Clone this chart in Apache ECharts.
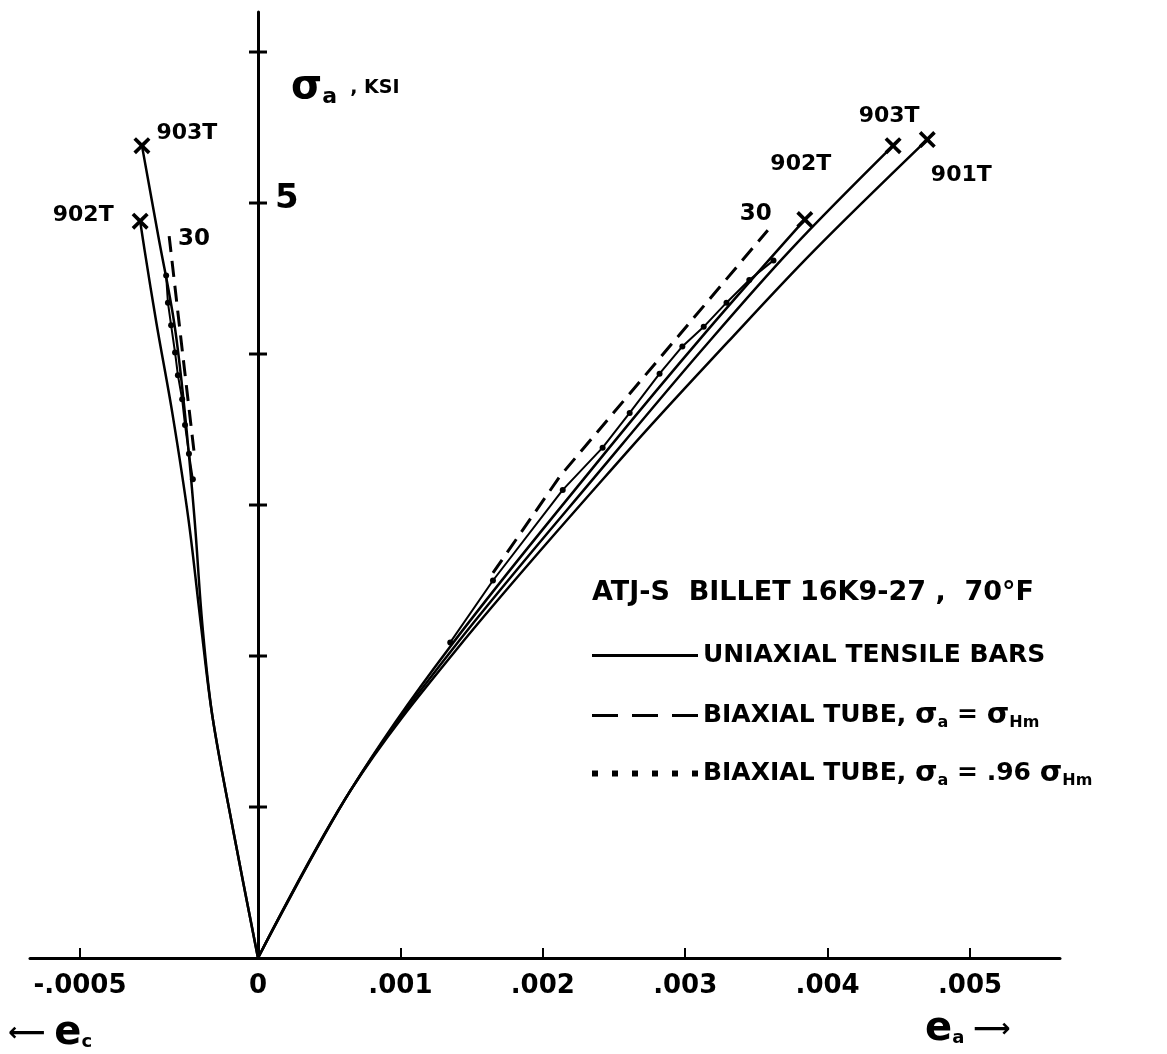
<!DOCTYPE html>
<html><head><meta charset="utf-8">
<script src="https://cdn.jsdelivr.net/npm/echarts@6/dist/echarts.min.js"></script>
<style>html,body{margin:0;padding:0;background:#fff}#c{width:1167px;height:1054px}</style>
</head><body><div id="c"></div>
<script>
// ---- data ----
const K = 2.5; // compressive strain drawn at 2.5x scale (as on the original)
const xTickStrains = [-0.0005, 0, 0.001, 0.002, 0.003, 0.004, 0.005];
const xTickLabels = ['-.0005', '0', '.001', '.002', '.003', '.004', '.005'];
const yTickValues = [1, 2, 3, 4, 5, 6];
const yLabelValues = [5];

// uniaxial tensile bars: axial strain e_a vs sigma_a (ksi)
const uni901T_axial = [[0,0],[0.00065,1.11],[0.0014,2.05],[0.0026,3.36],[0.0033,4.08],[0.0039,4.68],[0.0047,5.42]];
const uni903T_axial = [[0,0],[0.00065,1.11],[0.00137,2.05],[0.00252,3.36],[0.00312,4.03],[0.00374,4.69],[0.00446,5.38]];
const uni902T_axial = [[0,0],[0.00065,1.11],[0.00134,2.05],[0.00245,3.36],[0.00315,4.15],[0.00384,4.89]];
// uniaxial: circumferential strain e_c
const uni903T_circ = [[0,0],[-0.00007,0.85],[-0.000128,1.6],[-0.000156,2.2],[-0.000178,2.9],[-0.000205,3.6],[-0.000235,4.2],[-0.00028,4.78],[-0.000326,5.38]];
const uni902T_circ = [[0,0],[-0.00007,0.85],[-0.000128,1.6],[-0.00016,2.2],[-0.000195,2.9],[-0.00024,3.6],[-0.000285,4.2],[-0.000318,4.68],[-0.000331,4.88]];
// biaxial tube 30, sigma_a = sigma_Hm
const bi30_axial = [[0.00165,2.55],[0.00212,3.19],[0.00358,4.82]];
const bi30_circ = [[-0.00018,3.36],[-0.000215,4.07],[-0.00025,4.79]];
// biaxial tube, sigma_a = .96 sigma_Hm
const bi96_axial = [[0.00135,2.09],[0.00165,2.5],[0.00214,3.1],[0.00242,3.38],[0.00261,3.61],[0.00282,3.87],[0.00298,4.05],[0.00313,4.18],[0.00329,4.34],[0.00345,4.49],[0.00362,4.62]];
const bi96_circ = [[-0.000183,3.17],[-0.000194,3.34],[-0.000205,3.53],[-0.000213,3.7],[-0.000225,3.86],[-0.000233,4.01],[-0.000244,4.19],[-0.000253,4.34],[-0.000258,4.52]];

// end points (failure) with specimen labels
const endPoints = [
  {name:'903T', v:[-0.000326,5.38], pos:'right', off:[0,-12]},
  {name:'902T', v:[-0.000331,4.88], pos:'left', off:[-12,-6]},
  {name:'903T', v:[0.00446,5.38], pos:'top', off:[-4,-4]},
  {name:'901T', v:[0.0047,5.42], pos:'bottom', off:[34,10]},
  {name:'902T', v:[0.00384,4.89], pos:'top', off:[-4,-30]}
];
const tubeLabels = [
  {name:'30', v:[-0.00025,4.79], pos:'right', off:[4,4]},
  {name:'30', v:[0.00358,4.82], pos:'top', off:[-12,0]}
];

// ---- helpers ----
const toD = e => e < 0 ? e * K : e;
const conv = arr => arr.map(p => [toD(p[0]), p[1]]);
const UNI = 'UNIAXIAL TENSILE BARS';
const B1 = 'BIAXIAL TUBE, σa = σHm';
const B2 = 'BIAXIAL TUBE, σa = .96 σHm';
const FONT = 'DejaVu Sans';
const xTickDisp = xTickStrains.map(toD);

const solid = (d) => ({type:'line', name:UNI, data:conv(d), showSymbol:false, smooth:0.35,
  lineStyle:{color:'#000', width:2.5}, itemStyle:{color:'#000'}, z:3});
const dashed = (d) => ({type:'line', name:B1, data:conv(d), showSymbol:false,
  lineStyle:{color:'#000', width:3, type:[16,9]}, itemStyle:{color:'#000'}, z:3});
const dotted = (d) => ({type:'line', name:B2, data:conv(d), showSymbol:true, symbol:'circle', symbolSize:6,
  lineStyle:{color:'#000', width:2}, itemStyle:{color:'#000'}, z:4});

const xPath = 'path://M0,1.5L1.5,0L5,3.5L8.5,0L10,1.5L6.5,5L10,8.5L8.5,10L5,6.5L1.5,10L0,8.5L3.5,5Z';
const rich = {
  n:{fontFamily:FONT, fontSize:25, fontWeight:'bold', color:'#000'},
  g:{fontFamily:FONT, fontSize:29, fontWeight:'bold', color:'#000'},
  s:{fontFamily:FONT, fontSize:16, fontWeight:'bold', color:'#000', padding:[14,0,0,0]}
};
const legendBase = {orient:'horizontal', left:587, itemWidth:106, itemGap:24,
  textStyle:{fontFamily:FONT, fontSize:25, fontWeight:'bold', color:'#000', rich:rich},
  formatter: function(n){
    if (n === UNI) return '{n|' + n + '}';
    if (n === B1) return '{n|BIAXIAL TUBE, }{g|σ}{s|a}{n| = }{g|σ}{s|Hm}';
    return '{n|BIAXIAL TUBE, }{g|σ}{s|a}{n| = .96 }{g|σ}{s|Hm}';
  }};
const lbl = {color:'#000', fontFamily:FONT, fontWeight:'bold', textBorderWidth:0};
const ink = {color:'#000', opacity:1};

const chart = echarts.init(document.getElementById('c'), null, {renderer:'canvas'});
chart.setOption({
  animation:false,
  backgroundColor:'#fff',
  textStyle:{fontFamily:FONT, color:'#000'},
  grid:{left:30, right:107, top:12, bottom:96, containLabel:false},
  title:{text:'ATJ-S  BILLET 16K9-27 ,  70°F', left:587, top:574,
    textStyle:{fontFamily:FONT, fontSize:27, fontWeight:'bold', color:'#000'}},
  legend:[
    Object.assign({}, legendBase, {data:[{name:UNI, icon:'rect'}], top:638, itemHeight:3}),
    Object.assign({}, legendBase, {data:[{name:B1, icon:'path://M0,0H26V3H0Z M40,0H66V3H40Z M80,0H106V3H80Z'}], top:696, itemHeight:3}),
    Object.assign({}, legendBase, {data:[{name:B2, icon:'path://M0,0H6V6H0Z M20,0H26V6H20Z M40,0H46V6H40Z M60,0H66V6H60Z M80,0H86V6H80Z M100,0H106V6H100Z'}], top:754, itemHeight:6})
  ],
  xAxis:{type:'value', min:-0.0016011, max:0.005632, splitLine:{show:false},
    axisLine:{onZero:true, lineStyle:{color:'#000', width:3}},
    axisTick:{show:true, inside:true, length:10, customValues:xTickDisp, lineStyle:{color:'#000', width:2}},
    axisLabel:{show:true, customValues:xTickDisp, margin:15, color:'#000', fontFamily:FONT, fontSize:26, fontWeight:'bold',
      formatter:function(v){ let i = xTickDisp.findIndex(t => Math.abs(t - v) < 1e-9); return i >= 0 ? xTickLabels[i] : ''; }}
  },
  yAxis:{type:'value', min:0, max:6.265, splitLine:{show:false},
    axisLine:{onZero:true, lineStyle:{color:'#000', width:3}},
    axisTick:{show:false}, axisLabel:{show:false}
  },
  graphic:[
    {type:'text', left:291, top:68, style:{text:'{g|σ}{s|a}{n|  , KSI}', fill:'#000',
      rich:{g:{fontFamily:FONT, fontSize:40, fontWeight:'bold', fill:'#000'}, s:{fontFamily:FONT, fontSize:22, fontWeight:'bold', fill:'#000', padding:[18,0,0,0]}, n:{fontFamily:FONT, fontSize:19, fontWeight:'bold', fill:'#000'}}}},
    {type:'text', left:8, top:1014, style:{text:'{n|⟵ }{e|e}{s|c}', fill:'#000',
      rich:{n:{fontFamily:FONT, fontSize:26, fontWeight:'bold', fill:'#000'}, e:{fontFamily:FONT, fontSize:40, fontWeight:'bold', fill:'#000'}, s:{fontFamily:FONT, fontSize:18, fontWeight:'bold', fill:'#000', padding:[16,0,0,0]}}}},
    {type:'text', left:925, top:1010, style:{text:'{e|e}{s|a}{n| ⟶}', fill:'#000',
      rich:{n:{fontFamily:FONT, fontSize:26, fontWeight:'bold', fill:'#000'}, e:{fontFamily:FONT, fontSize:40, fontWeight:'bold', fill:'#000'}, s:{fontFamily:FONT, fontSize:18, fontWeight:'bold', fill:'#000', padding:[16,0,0,0]}}}}
  ],
  series:[
    solid(uni901T_axial), solid(uni903T_axial), solid(uni902T_axial),
    solid(uni903T_circ), solid(uni902T_circ),
    dashed(bi30_axial), dashed(bi30_circ),
    dotted(bi96_axial), dotted(bi96_circ),
    {type:'scatter', name:'ticks', data:yTickValues.map(v => [0, v]), symbol:'rect', symbolSize:[18,3],
      itemStyle:ink, silent:true, z:5},
    {type:'scatter', name:'ylabels', data:yLabelValues.map(v => ({value:[0, v], name:String(v)})), symbolSize:0, z:6,
      itemStyle:ink, label:Object.assign({show:true, formatter:'{b}', position:'right', offset:[12,-4], fontSize:34}, lbl)},
    {type:'scatter', name:'ends', data:endPoints.map(p => ({value:[toD(p.v[0]), p.v[1]], label:Object.assign({position:p.pos, offset:p.off}, lbl), name:p.name})),
      symbol:xPath, symbolSize:17, itemStyle:ink, z:6,
      label:Object.assign({show:true, formatter:'{b}', fontSize:22, distance:6}, lbl)},
    {type:'scatter', name:'tubes', data:tubeLabels.map(p => ({value:[toD(p.v[0]), p.v[1]], name:p.name, label:Object.assign({position:p.pos, offset:p.off}, lbl)})),
      symbolSize:0, z:6, itemStyle:ink,
      label:Object.assign({show:true, formatter:'{b}', fontSize:23}, lbl)}
  ]
});
</script></body></html>
